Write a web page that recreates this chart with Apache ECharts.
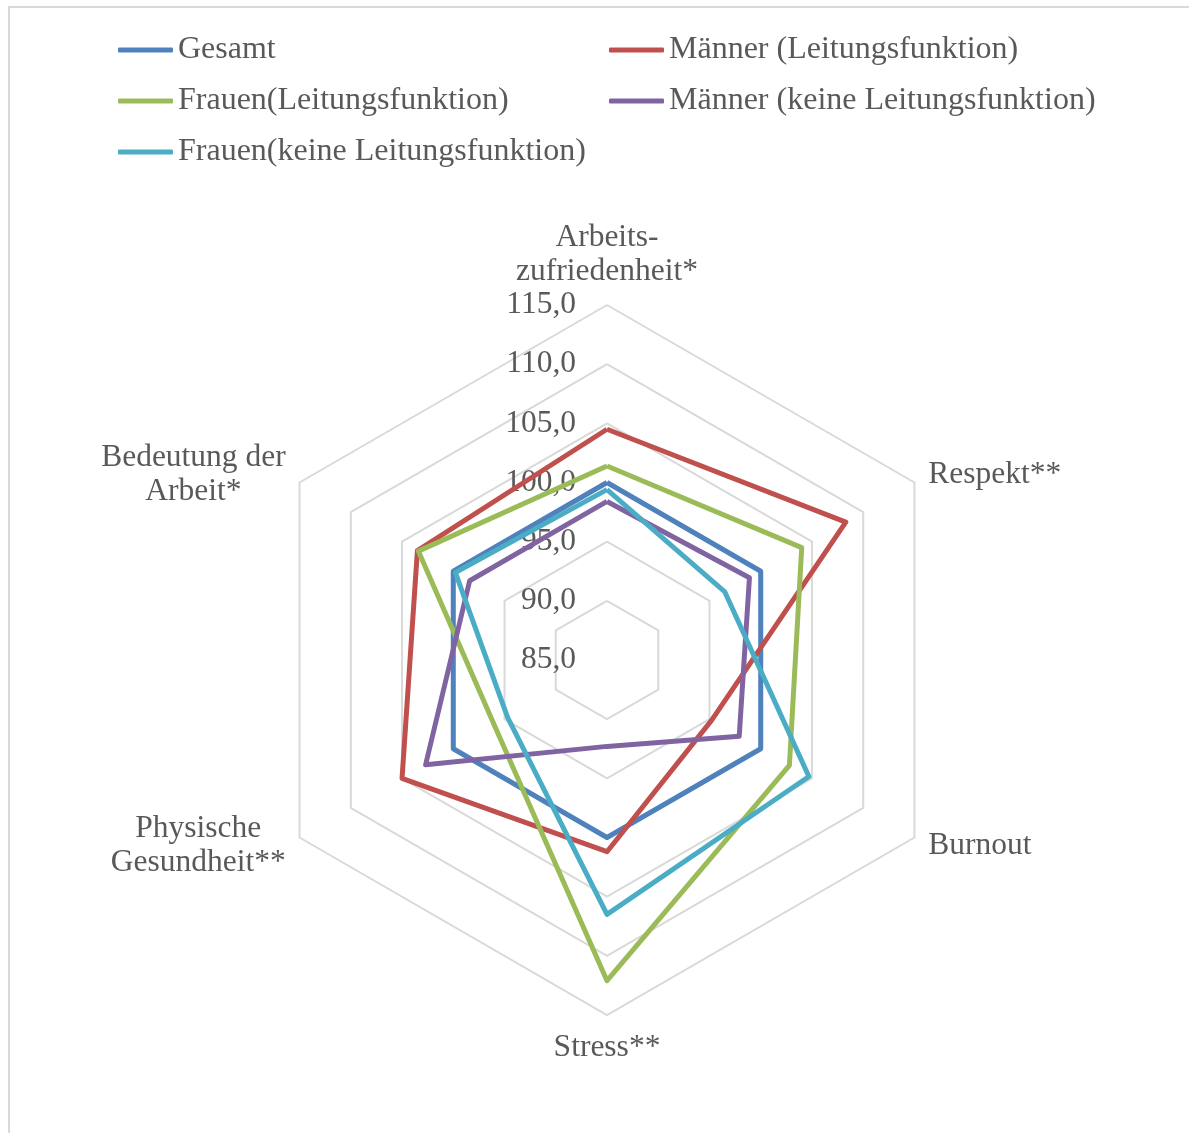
<!DOCTYPE html>
<html>
<head>
<meta charset="utf-8">
<script src="https://cdn.jsdelivr.net/npm/echarts@6/dist/echarts.min.js"></script>
<style>
html, body { margin: 0; padding: 0; background: #fff; overflow: hidden; }
#frame { position: absolute; left: 8px; top: 6px; width: 1400px; height: 1400px; border-left: 2px solid #d9d9d9; border-top: 2px solid #d9d9d9; }
#chart { position: absolute; left: 0; top: 0; width: 1189px; height: 1133px; }
</style>
</head>
<body>
<div id="frame"></div>
<div id="chart"></div>
<script>
// axes in ECharts order (counter-clockwise from the top)
const indicators = ['Arbeits-\nzufriedenheit*', 'Bedeutung der\nArbeit*', 'Physische\nGesundheit**', 'Stress**', 'Burnout', 'Respekt**'];
const tickLabels = ['85,0', '90,0', '95,0', '100,0', '105,0', '110,0', '115,0'];
const axisMin = 85;
const axisMax = 115;

const seriesNames = ['Gesamt', 'Männer (Leitungsfunktion)', 'Frauen(Leitungsfunktion)', 'Männer (keine Leitungsfunktion)', 'Frauen(keine Leitungsfunktion)'];
const gesamt         = [100.0, 100.0, 100.0, 100.0, 100.0, 100.0];
const maennerLeitung = [104.5, 103.5, 105.0, 101.2,  95.2, 108.3];
const frauenLeitung  = [101.4, 103.4,  96.0, 112.1, 102.8, 104.0];
const maennerKeine   = [ 98.4,  98.4, 102.7,  92.3,  97.9,  98.9];
const frauenKeine    = [ 99.4,  99.8,  94.7, 106.5, 104.7,  96.5];
const colors = ['#4F81BD', '#C0504D', '#9BBB59', '#8064A2', '#4BACC6'];

const values = [gesamt, maennerLeitung, frauenLeitung, maennerKeine, frauenKeine];
const font = 'Liberation Serif';
const grey = '#595959';

let chart = echarts.init(document.getElementById('chart'));

let legendStyle = {
	orient: 'vertical',
	top: 33,
	padding: 0,
	itemWidth: 55,
	itemHeight: 5,
	itemGap: 17,
	icon: 'roundRect',
	textStyle: { color: grey, fontFamily: font, fontSize: 32, lineHeight: 34 }
};

let option = {
	animation: false,
	color: colors,
	legend: [
		Object.assign({ left: 118, data: [seriesNames[0], seriesNames[2], seriesNames[4]] }, legendStyle),
		Object.assign({ left: 609, data: [seriesNames[1], seriesNames[3]] }, legendStyle)
	],
	radar: {
		center: [607, 660],
		radius: 355,
		startAngle: 90,
		splitNumber: 6,
		shape: 'polygon',
		axisNameGap: 16,
		nameGap: 16,
		axisName: {
			color: grey,
			fontFamily: font,
			fontSize: 31.5,
			lineHeight: 34,
			formatter: function (v) {
				return v.split('\n').map(s => '{c|' + s + '}').join('\n');
			},
			rich: {
				c: { align: 'center', color: grey, fontFamily: font, fontSize: 31.5, lineHeight: 34 }
			}
		},
		splitLine: { lineStyle: { color: '#d9d9d9', width: 2 } },
		splitArea: { show: false },
		axisLine: { show: false },
		axisTick: { show: false },
		axisLabel: { show: false },
		indicator: indicators.map(function (n, i) {
			let ind = { name: n, min: axisMin, max: axisMax };
			if (i === 0) {
				ind.axisLabel = {
					show: true,
					color: grey,
					fontFamily: font,
					fontSize: 31.5,
					margin: 31,
					showMinLabel: true,
					showMaxLabel: true,
					formatter: function (val) {
						return tickLabels[Math.round((val - axisMin) / 5)];
					}
				};
			}
			return ind;
		})
	},
	series: values.map(function (v, i) {
		return {
			type: 'radar',
			name: seriesNames[i],
			symbol: 'none',
			lineStyle: { color: colors[i], width: 5 },
			itemStyle: { color: colors[i] },
			data: [{ name: seriesNames[i], value: v }]
		};
	})
};

chart.setOption(option);
</script>
</body>
</html>
